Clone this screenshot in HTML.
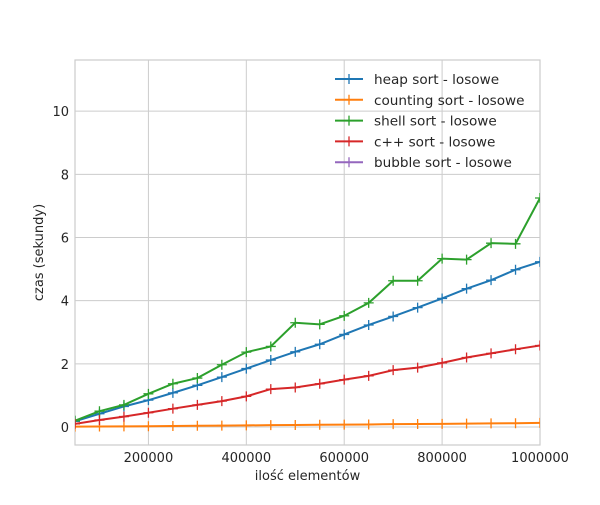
<!DOCTYPE html>
<html><head><meta charset="utf-8"><style>
body{margin:0;background:#fff;font-family:"Liberation Sans","DejaVu Sans",sans-serif}
svg text{font-family:"DejaVu Sans","Liberation Sans",sans-serif;fill:#262626}
</style></head><body>
<svg id="chart" width="600" height="500"></svg>
<script>
const xValues=[50000,100000,150000,200000,250000,300000,350000,400000,450000,500000,550000,600000,650000,700000,750000,800000,850000,900000,950000,1000000];
const heapSort=[0.18,0.42,0.65,0.85,1.08,1.32,1.58,1.85,2.12,2.38,2.62,2.93,3.23,3.5,3.78,4.07,4.38,4.65,4.98,5.23];
const countingSort=[0.01,0.015,0.02,0.025,0.03,0.04,0.045,0.05,0.06,0.065,0.07,0.075,0.08,0.09,0.095,0.1,0.105,0.115,0.12,0.13];
const shellSort=[0.2,0.5,0.7,1.05,1.37,1.55,1.97,2.37,2.55,3.3,3.25,3.52,3.93,4.63,4.63,5.33,5.3,5.82,5.8,7.25];
const cppSort=[0.1,0.22,0.33,0.45,0.58,0.7,0.82,0.97,1.2,1.25,1.37,1.5,1.62,1.8,1.88,2.03,2.2,2.33,2.46,2.58];
const bubbleSort=[];
const seriesNames=["heap sort - losowe","counting sort - losowe","shell sort - losowe","c++ sort - losowe","bubble sort - losowe"];
const xTicks=[200000,400000,600000,800000,1000000];
const yTicks=[0,2,4,6,8,10];
const colors=["#1f77b4","#ff7f0e","#2ca02c","#d62728","#9467bd"];
const L=75,R=540,T=60,B=445,xMin=50000,xMax=1000000,yMin=-0.57,yMax=11.62;
const X=v=>L+(v-xMin)/(xMax-xMin)*(R-L);
const Y=v=>B-(v-yMin)/(yMax-yMin)*(B-T);
const svg=document.getElementById('chart');const NS="http://www.w3.org/2000/svg";
function mk(t,a,p){const e=document.createElementNS(NS,t);for(const k in a)e.setAttribute(k,a[k]);(p||svg).appendChild(e);return e;}
mk('rect',{x:L,y:T,width:R-L,height:B-T,fill:'#fff',stroke:'#ccc','stroke-width':1.2});
xTicks.forEach(v=>{const x=X(v);
 const g=mk('line',{x1:x,x2:x,y1:T,y2:B,stroke:'#ccc'});
 const t=mk('text',{x:x,y:B+17,'text-anchor':'middle','font-size':13});t.textContent=v;});
yTicks.forEach(v=>{const y=Y(v);
 const g=mk('line',{x1:L,x2:R,y1:y,y2:y,stroke:'#ccc'});
 const t=mk('text',{x:L-6,y:y+5,'text-anchor':'end','font-size':13});t.textContent=v;});
const xl=mk('text',{x:(L+R)/2,y:480,'text-anchor':'middle','font-size':13});xl.textContent='ilość elementów';
const yl=mk('text',{x:43,y:(T+B)/2,'text-anchor':'middle','font-size':13,transform:`rotate(-90 43 ${(T+B)/2})`});yl.textContent='czas (sekundy)';
const clip=mk('clipPath',{id:'cp'});mk('rect',{x:L,y:T,width:R-L,height:B-T},clip);
[heapSort,countingSort,shellSort,cppSort,bubbleSort].forEach((s,i)=>{
 const g=mk('g',{'clip-path':'url(#cp)'});
 if(s.length){const pts=s.map((v,j)=>X(xValues[j])+','+Y(v)).join(' ');
 mk('polyline',{points:pts,fill:'none',stroke:colors[i],'stroke-width':2},g);
 s.forEach((v,j)=>{const x=X(xValues[j]),y=Y(v);mk('path',{d:`M${x-5},${y}H${x+5}M${x},${y-5}V${y+5}`,stroke:colors[i],'stroke-width':1.3},g);});}
});
seriesNames.forEach((n,i)=>{const y=79+i*20.8;
 const g=mk('g',{});
 mk('line',{x1:335,x2:363,y1:y,y2:y,stroke:colors[i],'stroke-width':2},g);
 mk('path',{d:`M344,${y}H354M349,${y-5}V${y+5}`,stroke:colors[i],'stroke-width':1.3},g);
 const t=mk('text',{x:374,y:y+5,'font-size':13.6},g);t.textContent=n;});
</script>
</body></html>
